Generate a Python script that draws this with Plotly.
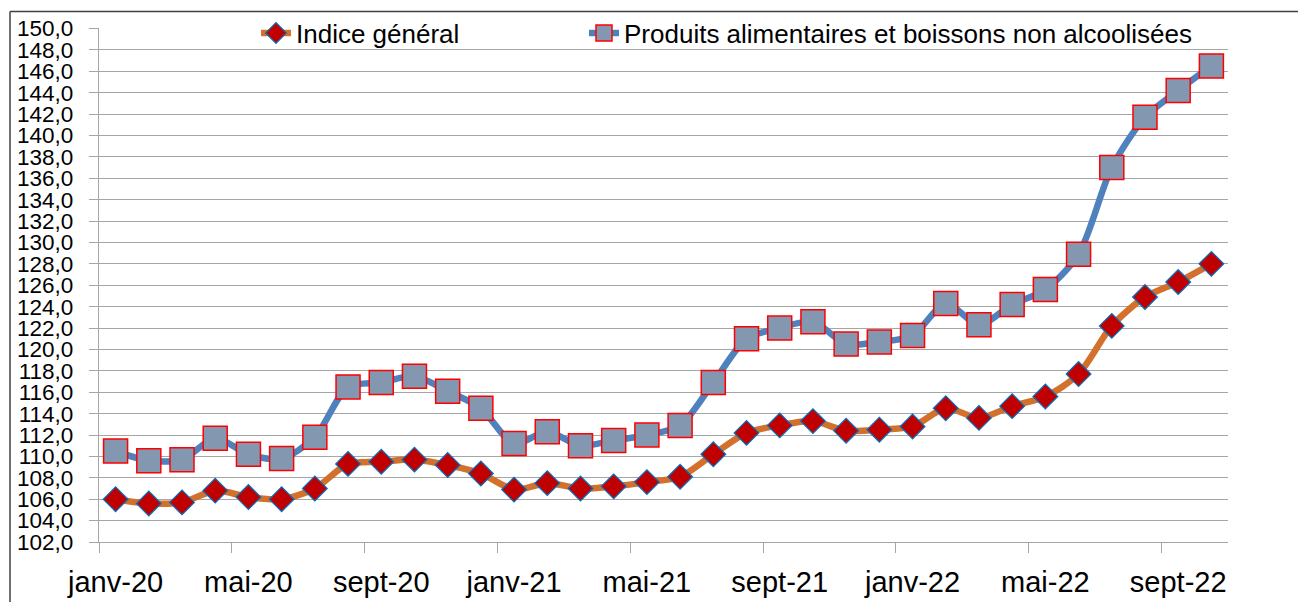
import plotly.graph_objects as go

months = ["janv-20", "févr-20", "mars-20", "avr-20", "mai-20", "juin-20", "juil-20", "août-20",
          "sept-20", "oct-20", "nov-20", "déc-20",
          "janv-21", "févr-21", "mars-21", "avr-21", "mai-21", "juin-21", "juil-21", "août-21",
          "sept-21", "oct-21", "nov-21", "déc-21",
          "janv-22", "févr-22", "mars-22", "avr-22", "mai-22", "juin-22", "juil-22", "août-22",
          "sept-22", "oct-22"]

indice_general = [106.0, 105.6, 105.7, 106.8, 106.2, 106.0, 107.0, 109.3, 109.5, 109.7,
                  109.2, 108.4, 106.9, 107.5, 107.0, 107.2, 107.6, 108.1, 110.2, 112.2,
                  112.9, 113.3, 112.4, 112.5, 112.8, 114.5, 113.6, 114.7, 115.6, 117.7,
                  122.2, 124.9, 126.3, 128.0]

produits_alim = [110.5, 109.6, 109.7, 111.7, 110.2, 109.8, 111.8, 116.5, 116.9, 117.5,
                 116.1, 114.5, 111.2, 112.3, 111.0, 111.5, 112.0, 112.9, 116.9, 121.0,
                 122.0, 122.6, 120.5, 120.7, 121.3, 124.3, 122.3, 124.2, 125.6, 128.9,
                 137.0, 141.7, 144.2, 146.5]

tick_labels = ["janv-20", "mai-20", "sept-20", "janv-21", "mai-21", "sept-21",
               "janv-22", "mai-22", "sept-22"]

x_idx = list(range(len(months)))
tick_pos = [months.index(t) for t in tick_labels]
boundary_pos = [p - 0.5 for p in tick_pos]

FONT = "Liberation Sans"
GRID = "#A6A6A6"

fig = go.Figure()

fig.add_trace(go.Scatter(
    x=x_idx, y=indice_general, name="Indice général", mode="lines+markers",
    line=dict(color="#D2702C", width=6.5, shape="spline", smoothing=0.8),
    marker=dict(symbol="diamond", size=19, color="#C00000",
                line=dict(color="#0070C0", width=1.2)),
    legend="legend", customdata=months,
))
fig.add_trace(go.Scatter(
    x=x_idx, y=produits_alim, name="Produits alimentaires et boissons non alcoolisées",
    mode="lines+markers",
    line=dict(color="#4F81BD", width=6.5, shape="spline", smoothing=0.8),
    marker=dict(symbol="square", size=24, color="#8497B0",
                line=dict(color="#FF0000", width=1.5)),
    legend="legend2", customdata=months,
))

L, R, T, B = 99, 70, 28, 60
W, H = 1298, 602
pw = W - L - R
ph = H - T - B

def px_x(p):
    return (p - L) / pw

def px_y(p):
    return (H - B - p) / ph

fig.update_layout(
    width=W, height=H,
    margin=dict(l=L, r=R, t=T, b=B, pad=0, autoexpand=False),
    paper_bgcolor="white", plot_bgcolor="white",
    separators=", ",
    showlegend=True,
    font=dict(family=FONT, color="black"),
    xaxis=dict(
        range=[-0.5, len(months) - 0.5],
        tickmode="array", tickvals=tick_pos, ticktext=tick_labels,
        ticks="", ticklabelstandoff=14,
        tickfont=dict(size=29, family=FONT, color="black"),
        showgrid=False, zeroline=False,
        showline=True, linecolor=GRID, linewidth=1.3,
        minor=dict(tickmode="array", tickvals=boundary_pos, ticks="outside",
                   ticklen=10, tickcolor=GRID, tickwidth=1.3, showgrid=False),
    ),
    yaxis=dict(
        range=[102, 150.05], tickmode="linear", tick0=102, dtick=2,
        tickformat=".1f",
        ticks="outside", ticklen=9, tickcolor=GRID, tickwidth=1.3,
        ticklabelstandoff=11,
        tickfont=dict(size=22.5, family=FONT, color="black"),
        showgrid=True, gridcolor=GRID, gridwidth=1.3,
        zeroline=False,
        showline=True, linecolor=GRID, linewidth=1.3,
    ),
    legend=dict(
        orientation="h", x=px_x(256), xanchor="left", y=px_y(33), yanchor="middle",
        font=dict(size=26, family=FONT, color="black"),
        bgcolor="rgba(255,255,255,0)", borderwidth=0,
        itemwidth=30, visible=True,
    ),
    legend2=dict(
        orientation="h", x=px_x(584), xanchor="left", y=px_y(33), yanchor="middle",
        font=dict(size=26, family=FONT, color="black"),
        bgcolor="rgba(255,255,255,0)", borderwidth=0,
        itemwidth=30, visible=True,
    ),
    shapes=[
        dict(type="line", xref="paper", yref="paper",
             x0=px_x(10), x1=px_x(10), y0=px_y(11.5), y1=px_y(620),
             line=dict(color="#404040", width=1.5)),
        dict(type="line", xref="paper", yref="paper",
             x0=px_x(10), x1=px_x(1320), y0=px_y(11.5), y1=px_y(11.5),
             line=dict(color="#404040", width=1.5)),
    ],
)

fig.write_html("out.html", config={"displayModeBar": False},
               post_script="document.body.style.margin='0px';")
